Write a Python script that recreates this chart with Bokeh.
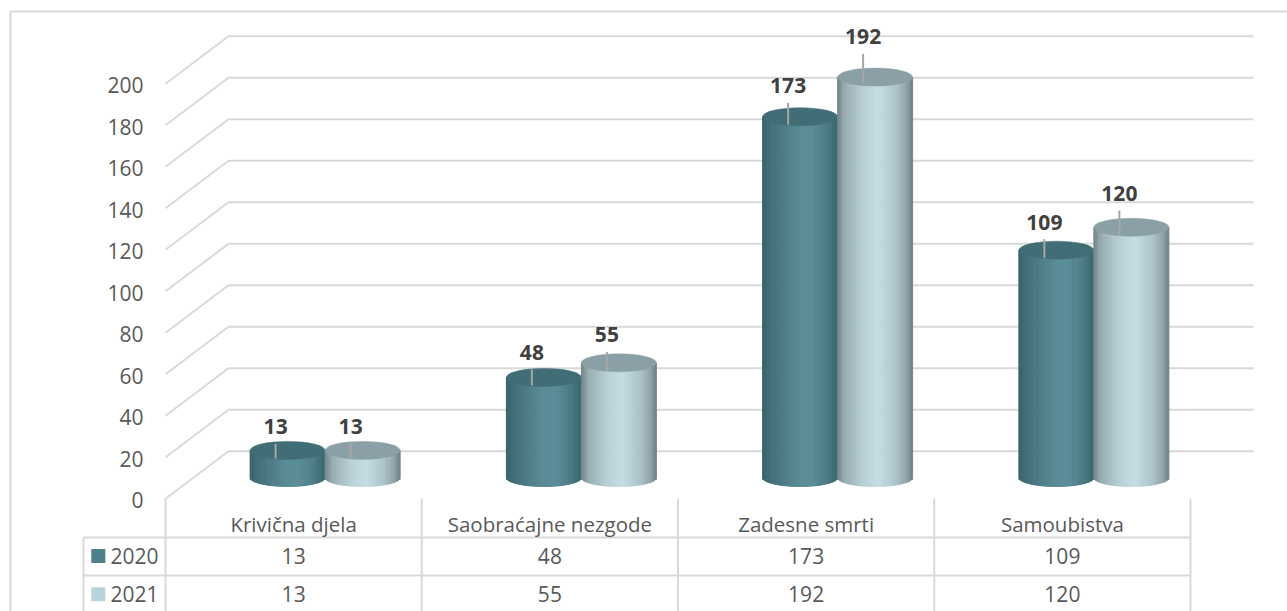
import numpy as np
from bokeh.plotting import figure
from bokeh.models import Range1d, ColumnDataSource
from bokeh.embed import file_html
from bokeh.resources import INLINE
from bokeh.core.properties import value

# ---------------- data ----------------
categories = ["Krivična djela", "Saobraćajne nezgode", "Zadesne smrti", "Samoubistva"]
series_labels = ["2020", "2021"]
values_2020 = [13, 48, 173, 109]
values_2021 = [13, 55, 192, 120]
y_ticks = [0, 20, 40, 60, 80, 100, 120, 140, 160, 180, 200]

# ---------------- layout / style ----------------
W, H = 1287, 611
PAGE = 0               # canvas origin on the page (bokeh template has no body margin)
PX_X = 256.25          # pixels per category column
PX_Y = 2.075           # pixels per value unit
FRONT_X_PX = 165       # page px of front-left corner
ZERO_Y_PX = 498.3      # page px of value 0 on front plane

def dxp(px):
    return px / PX_X

def dyp(px):
    return px / PX_Y

def ypx(px):
    """page pixel row -> data y"""
    return (ZERO_Y_PX - px) / PX_Y

def xpx(px):
    """page pixel column -> data x"""
    return (px - FRONT_X_PX) / PX_X

x0 = xpx(PAGE)
x1 = xpx(PAGE + W)
y1 = ypx(PAGE)
y0 = ypx(PAGE + H)

DX = dxp(63)           # depth offset
DY = dyp(47.5)
CW = dxp(75)           # cylinder width
EB = dyp(9)            # ellipse half height
CYL_BASE = dyp(21.3)   # cylinder base centre
CYL_SCALE = 1.005

FONT = value("Open Sans")
GRID = "#d9d9d9"
TXT = "#595959"
LBL = "#404040"

stops = [
    [(0.0, "#3a616b"), (0.12, "#44707b"), (0.5, "#5a8c97"), (0.65, "#5b8e99"),
     (0.85, "#4d7d88"), (1.0, "#3c6570")],
    [(0.0, "#6f8287"), (0.1, "#98adb2"), (0.35, "#b8d0d6"), (0.55, "#c5dee4"),
     (0.8, "#aac2c8"), (0.93, "#8ea2a7"), (1.0, "#6f8186")],
]
cap_colors = ["#416d77", "#8ba0a6"]
legend_colors = ["#4e808c", "#b9d3da"]
label_k = [0.045, 0.09]


def hex2rgb(h):
    h = h.lstrip("#")
    return [int(h[i:i + 2], 16) for i in (0, 2, 4)]


def grad(st, t):
    ts = [s[0] for s in st]
    cols = np.array([hex2rgb(s[1]) for s in st], dtype=float)
    rgb = [int(round(np.interp(t, ts, cols[:, c]))) for c in range(3)]
    return "#%02x%02x%02x" % tuple(rgb)


p = figure(width=W, height=H, x_range=Range1d(x0, x1), y_range=Range1d(y0, y1),
           output_backend="svg", toolbar_location=None, min_border=0,
           x_axis_location=None, y_axis_location=None)
p.grid.visible = False
p.outline_line_color = None
p.background_fill_color = "white"
p.border_fill_color = "white"

# outer chart border (left and top)
bx = xpx(10)
by = ypx(11)
p.line([bx, bx, x1 + 1], [y0 - 5, by, by], line_color=GRID, line_width=2)

# gridlines: front diagonal + back wall horizontal
n_cat = len(categories)
gxs, gys = [], []
for t in y_ticks:
    gxs.append([0, DX, n_cat + DX])
    gys.append([t, t + DY, t + DY])
p.multi_line(gxs, gys, line_color=GRID, line_width=2)

# tick labels
p.text(x=[xpx(143)] * len(y_ticks), y=[t - dyp(1.5) for t in y_ticks],
       text=[str(t) for t in y_ticks], text_align="right", text_baseline="middle",
       text_font=FONT, text_font_size="21px", text_color=TXT)

# ---------------- data table ----------------
row1 = ypx(537)
row2 = ypx(575)
tbl_left = xpx(83)
vx = [[i, i] for i in range(n_cat + 1)] + [[tbl_left, tbl_left]]
vy = [[0, y0 - 5] for _ in range(n_cat + 1)] + [[row1, y0 - 5]]
hx = [[tbl_left, n_cat], [tbl_left, n_cat]]
hy = [[row1, row1], [row2, row2]]
p.multi_line(vx + hx, vy + hy, line_color=GRID, line_width=2)

cx_cat = [i + 0.5 for i in range(n_cat)]
p.text(x=cx_cat, y=[ypx(523)] * n_cat, text=categories,
       text_align="center", text_baseline="middle", text_font=FONT,
       text_font_size="20.5px", text_color=TXT)
row_mid = [ypx(555.5), ypx(593.7)]
for s, vals in enumerate([values_2020, values_2021]):
    p.text(x=cx_cat, y=[row_mid[s]] * n_cat, text=[str(v) for v in vals],
           text_align="center", text_baseline="middle", text_font=FONT,
           text_font_size="21px", text_color=TXT)
    p.scatter(x=[xpx(97.8)], y=[row_mid[s]], marker="square", size=14,
              fill_color=legend_colors[s], line_color=None)
    p.text(x=[xpx(110)], y=[row_mid[s]], text=[series_labels[s]],
           text_align="left", text_baseline="middle", text_font=FONT,
           text_font_size="21px", text_color=TXT)

# ---------------- cylinders ----------------
N = 44
lab_x, lab_y, lab_t = [], [], []
lead_xs, lead_ys = [], []
for i in range(n_cat):
    for s, vals in enumerate([values_2020, values_2021]):
        v = vals[i]
        cx = i + 0.5 + DX / 2 + (s - 0.5) * CW
        top = CYL_BASE + v * CYL_SCALE
        tl = np.arange(N) / N
        tr = (np.arange(N) + 1) / N
        tm = (tl + tr) / 2
        left = cx - CW / 2 + tl * CW
        right = cx - CW / 2 + tr * CW
        bottom = CYL_BASE - EB * np.sqrt(np.clip(1 - (2 * tm - 1) ** 2, 0, 1))
        cols = [grad(stops[s], t) for t in tm]
        src = ColumnDataSource(dict(left=left, right=right, bottom=bottom,
                                    top=[top] * N, color=cols))
        p.quad(left="left", right="right", bottom="bottom", top="top", source=src,
               fill_color="color", line_color="color", line_width=1)
        p.ellipse(x=[cx], y=[top], width=CW, height=2 * EB, fill_color=cap_colors[s],
                  line_color=cap_colors[s], line_width=0.5)
        lc = top + dyp(23 + label_k[s] * v)
        lx = cx - dxp(12)
        lab_x.append(lx)
        lab_y.append(lc)
        lab_t.append(str(v))
        lead_xs.append([lx, lx])
        lead_ys.append([lc - dyp(17), top - dyp(8)])

p.multi_line(lead_xs, lead_ys, line_color="#a6a6a6", line_width=2)
p.text(x=lab_x, y=lab_y, text=lab_t, text_align="center", text_baseline="middle",
       text_font=FONT, text_font_size="21px", text_font_style="bold", text_color=LBL)

open("out.html", "w").write(file_html(p, INLINE))
